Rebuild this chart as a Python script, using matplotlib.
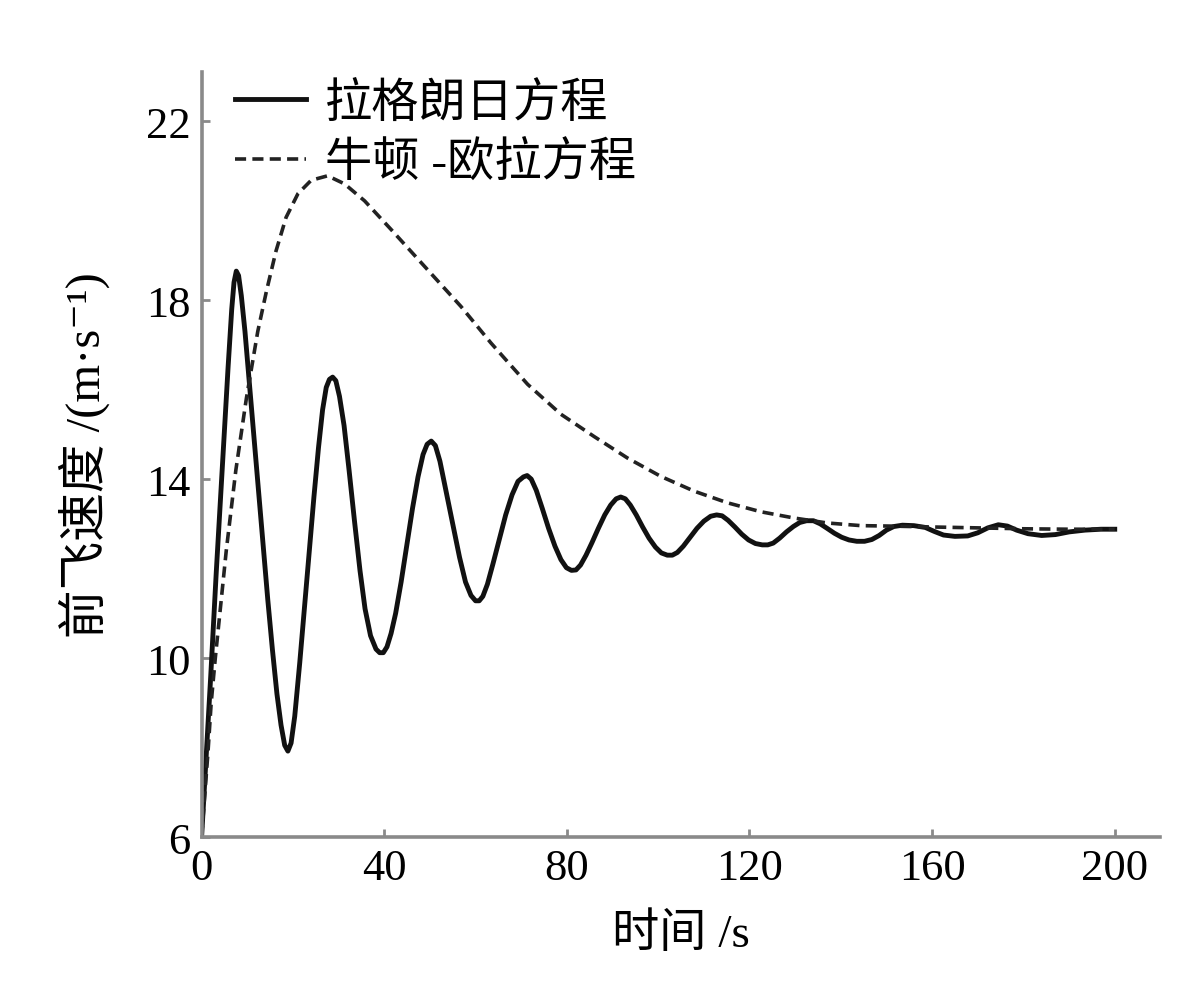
import matplotlib
matplotlib.use('Agg')
import matplotlib.pyplot as plt

plt.rcParams['font.family'] = ['Liberation Serif', 'Noto Sans CJK SC', 'DejaVu Serif']
plt.rcParams['lines.scale_dashes'] = False

# 拉格朗日方程 (solid)
t_lag = [0, 1.0, 2.0, 3.2, 4.5, 5.8, 6.6, 7.1, 7.6, 8.1, 8.7, 9.5, 10.5, 11.5, 12.5, 13.5,
         14.5, 15.5, 16.5, 17.4, 18.2, 18.9, 19.6, 20.4, 21.5, 22.5, 23.6, 24.6, 25.6, 26.5,
         27.3, 28.0, 28.7, 29.4, 30.2, 31.2, 32.3, 33.5, 34.7, 35.8, 37.0, 38.2, 39.0, 39.8,
         40.6, 41.5, 42.5, 43.7, 45.0, 46.2, 47.4, 48.5, 49.4, 50.3, 51.2, 52.2, 53.5, 55.0,
         56.5, 57.8, 59.0, 60.0, 60.8, 61.6, 62.6, 63.8, 65.2, 66.6, 68.0, 69.3, 70.5, 71.3,
         72.2, 73.3, 74.6, 76.0, 77.4, 78.7, 79.9, 81.0, 82.0, 83.0, 84.2, 85.5, 86.9, 88.3,
         89.6, 90.8, 91.8, 92.8, 93.9, 95.2, 96.6, 98.0, 99.4, 100.7, 102.0, 103.1, 104.2,
         105.5, 107.0, 108.5, 110.0, 111.5, 112.8, 114.0, 115.3, 116.8, 118.3, 119.8, 121.3,
         122.8, 124.0, 125.2, 126.6, 128.1, 129.6, 131.0, 132.5, 134.0, 135.5, 137.0, 138.6,
         140.2, 141.8, 143.5, 145.2, 146.8, 148.4, 150.0, 151.6, 153.5, 156.0, 158.5, 160.5,
         162.5, 165.0, 167.8, 170.0, 172.2, 174.5, 176.5, 178.5, 181.0, 184.0, 187.0, 190.0,
         193.5, 197.0, 200.0]
v_lag = [6.0, 7.8, 9.6, 11.9, 14.2, 16.5, 17.8, 18.4, 18.65, 18.55, 18.1, 17.3, 16.1, 14.9,
         13.7, 12.5, 11.3, 10.2, 9.2, 8.5, 8.05, 7.92, 8.1, 8.7, 9.9, 11.1, 12.43, 13.6, 14.7,
         15.55, 16.05, 16.23, 16.28, 16.2, 15.85, 15.2, 14.2, 13.05, 11.95, 11.1, 10.5, 10.2,
         10.12, 10.12, 10.25, 10.55, 11.0, 11.7, 12.55, 13.35, 14.05, 14.55, 14.78, 14.85,
         14.75, 14.4, 13.75, 13.0, 12.25, 11.7, 11.4, 11.28, 11.28, 11.38, 11.65, 12.1, 12.65,
         13.2, 13.65, 13.95, 14.05, 14.08, 14.0, 13.75, 13.35, 12.9, 12.5, 12.2, 12.02, 11.96,
         11.97, 12.08, 12.3, 12.58, 12.9, 13.2, 13.42, 13.56, 13.6, 13.56, 13.42, 13.2, 12.93,
         12.68, 12.48, 12.35, 12.3, 12.3, 12.36, 12.5, 12.7, 12.9, 13.06, 13.17, 13.2, 13.18,
         13.08, 12.93, 12.77, 12.64, 12.56, 12.53, 12.53, 12.57, 12.68, 12.82, 12.94, 13.03,
         13.07, 13.07, 13.0, 12.9, 12.79, 12.7, 12.64, 12.61, 12.61, 12.65, 12.74, 12.86,
         12.94, 12.97, 12.96, 12.92, 12.83, 12.75, 12.72, 12.73, 12.8, 12.91, 12.98, 12.95,
         12.86, 12.78, 12.74, 12.76, 12.82, 12.86, 12.88, 12.88]

# 牛顿-欧拉方程 (dashed)
t_ne = [0, 1.4, 2.1, 3.0, 3.9, 5.4, 7.5, 9.8, 12.3, 14.2, 16.3, 18.5, 21.1, 24.0, 27.6, 31.3,
        35.7, 41.5, 49.5, 56.8, 63.4, 71.4, 78.7, 86.0, 93.3, 100.6, 107.9, 115.2, 122.5,
        129.8, 137.0, 144.4, 151.0, 160.0, 170.0, 180.0, 190.0, 200.0]
v_ne = [6.0, 7.9, 9.0, 10.0, 10.9, 12.4, 14.2, 15.8, 17.3, 18.2, 19.1, 19.85, 20.38, 20.68,
        20.78, 20.6, 20.22, 19.58, 18.68, 17.86, 17.04, 16.12, 15.45, 14.95, 14.47, 14.06,
        13.73, 13.47, 13.27, 13.13, 13.02, 12.96, 12.95, 12.93, 12.91, 12.89, 12.88, 12.88]

xticks = [0, 40, 80, 120, 160, 200]
yticks = [6, 10, 14, 18, 22]

fig = plt.figure(figsize=(12, 10.03), dpi=100)
ax = fig.add_axes([0.168, 0.1645, 0.799, 0.7627])

ax.plot(t_lag, v_lag, color='#111111', lw=3.5, label='拉格朗日方程')
ax.plot(t_ne, v_ne, color='#222222', lw=2.6, dashes=(8, 4.5), label='牛顿 -欧拉方程')

ax.set_xlim(0, 210)
ax.set_ylim(6, 23.1)
ax.set_xticks(xticks)
ax.set_yticks(yticks)

for s in ['top', 'right']:
    ax.spines[s].set_visible(False)
for s in ['left', 'bottom']:
    ax.spines[s].set_color('#8a8a8a')
    ax.spines[s].set_linewidth(2.6)
ax.tick_params(direction='in', length=6, width=2, color='#8a8a8a',
               labelsize=32, pad=8)

ax.set_xlabel('时间 /s', fontsize=34, va='center')
ax.xaxis.set_label_coords(0.5, -0.127)
ax.set_ylabel('前飞速度 /(m·s⁻¹)', fontsize=35, va='center')
ax.yaxis.set_label_coords(-0.122, 0.5)

ax.legend(loc='upper left', bbox_to_anchor=(0.015, 1.012), frameon=False, fontsize=34,
          handlelength=1.5, handletextpad=0.4, labelspacing=0.32, borderaxespad=0)

fig.savefig('out.png', dpi=100)
